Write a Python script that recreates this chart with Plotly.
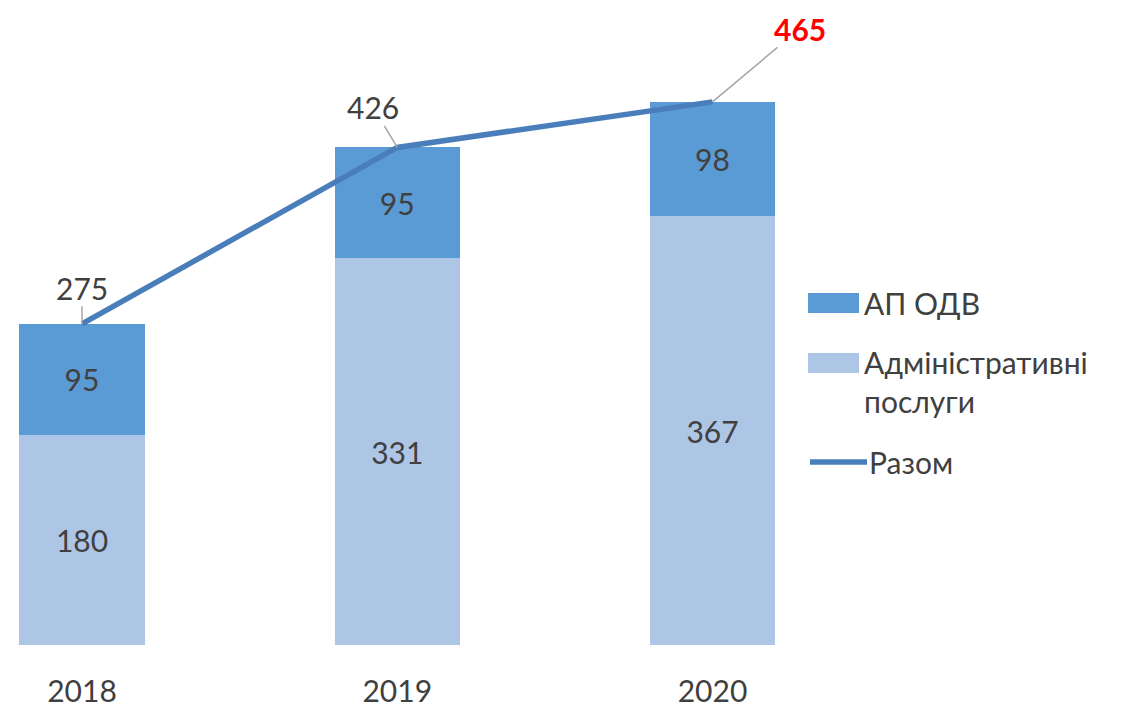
import plotly.graph_objects as go

years = ["2018", "2019", "2020"]
ap_odv = [95, 95, 98]
admin = [180, 331, 367]
totals = [275, 426, 465]

x_pos = [0, 1, 2]
C_DARK = "#5b9bd5"
C_LIGHT = "#aec6e6"
C_LINE = "#4a7ebb"
TXT = "#404040"
FONT = "Lato"
FS = 30

# page body has an 8px margin; compensate so the page matches the target
OFF = 8
FIG_W = 1140 - OFF
FIG_H = 707 - OFF
W = FIG_W
H = 645 - OFF  # plot-area height in px
X0 = 82 - OFF  # pixel of first category in the figure
STEP = 315.25
PXU = 1.168    # px per unit

fig = go.Figure()
fig.add_trace(go.Bar(x=x_pos, y=admin, name="Адміністративні послуги",
                     marker=dict(color=C_LIGHT, line=dict(width=0)),
                     width=0.397, text=admin, texttemplate="%{text}",
                     textposition="inside", insidetextanchor="middle",
                     textfont=dict(size=FS, color=TXT, family=FONT),
                     showlegend=False))
fig.add_trace(go.Bar(x=x_pos, y=ap_odv, name="АП ОДВ",
                     marker=dict(color=C_DARK, line=dict(width=0)),
                     width=0.397, text=ap_odv, texttemplate="%{text}",
                     textposition="inside", insidetextanchor="middle",
                     textfont=dict(size=FS, color=TXT, family=FONT),
                     showlegend=False))
fig.add_trace(go.Scatter(x=x_pos, y=totals, name="Разом", mode="lines",
                         line=dict(color=C_LINE, width=5.5), showlegend=False))

# total labels with leader lines
offsets = [(0, -36), (-24, -40), (87, -73)]
for i, (xv, tv) in enumerate(zip(x_pos, totals)):
    last = i == len(totals) - 1
    fig.add_annotation(x=xv, y=tv, text=f"<b>{tv}</b>" if last else str(tv),
                       showarrow=True, arrowhead=0, arrowwidth=1.5,
                       arrowcolor="#a6a6a6", ax=offsets[i][0], ay=offsets[i][1],
                       borderpad=0,
                       font=dict(size=FS, color="#ff0000" if last else TXT, family=FONT))

# manual legend (positions in page pixels)
def px(x):
    return (x - OFF) / W
def py(y):
    return 1 - (y - OFF) / H

legend_items = [
    ("rect", C_DARK, "АП ОДВ", 303),
    ("rect", C_LIGHT, "Адміністративні<br>послуги", 363),
    ("line", C_LINE, "Разом", 462),
]
for kind, col, label, yc in legend_items:
    if kind == "rect":
        fig.add_shape(type="rect", xref="paper", yref="paper",
                      x0=px(808), x1=px(859), y0=py(yc - 10), y1=py(yc + 10),
                      fillcolor=col, line=dict(width=0))
        tx = 862
    else:
        fig.add_shape(type="line", xref="paper", yref="paper",
                      x0=px(810), x1=px(867), y0=py(yc), y1=py(yc),
                      line=dict(color=col, width=5.5))
        tx = 867
    nlines = label.count("<br>") + 1
    yanchor = "middle" if nlines == 1 else "top"
    yy = py(yc) if nlines == 1 else py(yc - 21)
    fig.add_annotation(x=px(tx), y=yy, xref="paper", yref="paper",
                       text=label, showarrow=False, xanchor="left",
                       yanchor=yanchor, align="left",
                       font=dict(size=30, color=TXT, family=FONT))

fig.update_layout(
    width=FIG_W, height=FIG_H,
    barmode="stack",
    margin=dict(l=0, r=0, t=0, b=FIG_H - H),
    plot_bgcolor="white", paper_bgcolor="white",
    showlegend=False,
    xaxis=dict(range=[-X0 / STEP, (W - X0) / STEP], tickvals=x_pos, ticktext=years,
               showgrid=False, zeroline=False, showline=False,
               ticks="outside", ticklen=20, tickcolor="rgba(0,0,0,0)",
               tickfont=dict(size=FS, color=TXT, family=FONT)),
    yaxis=dict(range=[0, H / PXU], visible=False),
)

fig.write_html("out.html")
